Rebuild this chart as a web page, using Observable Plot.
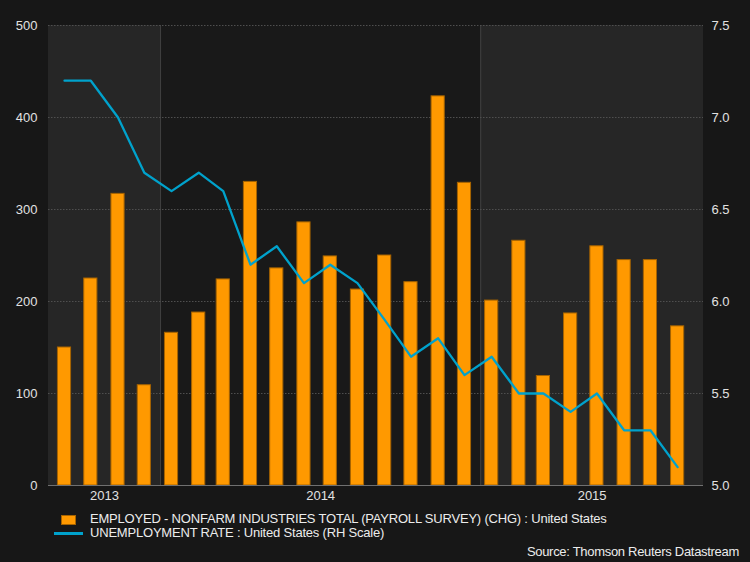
<!DOCTYPE html>
<html>
<head>
<meta charset="utf-8">
<script src="https://cdn.jsdelivr.net/npm/d3@7"></script>
<script src="https://cdn.jsdelivr.net/npm/@observablehq/plot@0.6"></script>
<style>
  html, body { margin: 0; padding: 0; }
  body {
    background: #171717; width: 750px; height: 562px; overflow: hidden; position: relative;
    font-family: "Liberation Sans", Arial, sans-serif; color: #ececec;
  }
  #chart { position: absolute; left: 0; top: 0; }
  .leg { position: absolute; font-size: 13px; line-height: 14px; letter-spacing: -0.2px; white-space: nowrap; }
  .sw-bar { position: absolute; left: 61px; top: 515px; width: 13px; height: 8px; background: #ff9900; border: 1px solid #a66300; }
  .sw-line { position: absolute; left: 54px; top: 532px; width: 29px; height: 3px; background: #00a2cc; }
</style>
</head>
<body>
<div id="chart"></div>
<div class="sw-bar"></div>
<div class="leg" id="leg1" style="left:90px; top:512px;"></div>
<div class="sw-line"></div>
<div class="leg" id="leg2" style="left:90px; top:526px;"></div>
<div class="leg" id="source" style="right:11px; top:545px; letter-spacing:-0.3px;"></div>
<script>
// ---- data ----
const months = ["2013-09","2013-10","2013-11","2013-12",
  "2014-01","2014-02","2014-03","2014-04","2014-05","2014-06","2014-07","2014-08","2014-09","2014-10","2014-11","2014-12",
  "2015-01","2015-02","2015-03","2015-04","2015-05","2015-06","2015-07","2015-08"];
const payrolls = [150,225,317,109, 166,188,224,330,236,286,249,213,250,221,423,329, 201,266,119,187,260,245,245,173];
const unemployment = [7.2,7.2,7.0,6.7, 6.6,6.7,6.6,6.2,6.3,6.1,6.2,6.1,5.9,5.7,5.8,5.6, 5.7,5.5,5.5,5.4,5.5,5.3,5.3,5.1];
const yearLabels = ["2013","2014","2015"];
const shadedYears = ["2013","2015"];
const leftTicks = [0,100,200,300,400,500];
const rateRange = [5.0, 7.5];
const xRange = ["2013-08-26T06:00Z","2015-09-12T00:00Z"];
const barSeriesName = "EMPLOYED - NONFARM INDUSTRIES TOTAL (PAYROLL SURVEY) (CHG) : United States";
const lineSeriesName = "UNEMPLOYMENT RATE : United States (RH Scale)";
const sourceText = "Source: Thomson Reuters Datastream";

// ---- derived ----
const DAY = 864e5;
const x0 = new Date(xRange[0]), x1 = new Date(xRange[1]);
const rows = months.map((m, i) => {
  const start = new Date(m + "-01T00:00Z");
  const center = new Date(+start + 12.5 * DAY);
  return { center, payroll: payrolls[i], rate: unemployment[i] };
});
const factor = leftTicks[leftTicks.length - 1] / (rateRange[1] - rateRange[0]);
const yTop = leftTicks[leftTicks.length - 1];
const yearSpan = y => {
  const a = new Date(y + "-01-01T00:00Z"), b = new Date((+y + 1) + "-01-01T00:00Z");
  return [new Date(Math.max(+a, +x0)), new Date(Math.min(+b, +x1))];
};
const yearMid = yearLabels.map(y => { const [a, b] = yearSpan(y); return new Date((+a + +b) / 2); });
const boundaries = yearLabels.slice(1).map(y => new Date(y + "-01-01T00:00Z"));

const txt = "#e2e2e2";
const chart = Plot.plot({
  width: 750, height: 505,
  marginLeft: 48, marginRight: 47, marginTop: 25, marginBottom: 20,
  style: { background: "transparent", fontFamily: "'Liberation Sans', Arial, sans-serif", fontSize: "13px", color: txt },
  x: { type: "utc", domain: [x0, x1], label: null },
  y: { domain: [0, yTop], label: null },
  marks: [
    Plot.frame({ fill: "#191919", stroke: "none" }),
    Plot.rect(shadedYears, { x1: d => yearSpan(d)[0], x2: d => yearSpan(d)[1], y1: 0, y2: yTop, fill: "#262626" }),
    Plot.ruleX(boundaries, { stroke: "#404040", strokeWidth: 1 }),
    Plot.ruleY(leftTicks.filter(d => d > 0), { stroke: "#4f4f4f", strokeDasharray: "1.5,1.5" }),
    Plot.rectY(rows, {
      x1: d => new Date(+d.center - 7.5 * DAY), x2: d => new Date(+d.center + 7.5 * DAY),
      y: "payroll", fill: "#ff9900", stroke: "#a66300", strokeWidth: 1
    }),
    Plot.ruleY([0], { stroke: "#707070" }),
    Plot.line(rows, { x: "center", y: d => (d.rate - rateRange[0]) * factor, stroke: "#00a2cc", strokeWidth: 2.3 }),
    Plot.axisY({ anchor: "left", ticks: leftTicks, tickSize: 0, tickPadding: 11, fontSize: 13, color: txt, label: null, tickFormat: d => String(d) }),
    Plot.axisY({ anchor: "right", ticks: leftTicks, tickSize: 0, tickPadding: 8, fontSize: 13, color: txt, label: null,
      tickFormat: d => (rateRange[0] + d / factor).toFixed(1) }),
    Plot.axisX({ ticks: yearMid, tickSize: 0, tickPadding: 5, fontSize: 13, color: txt, label: null,
      tickFormat: d => String(d.getUTCFullYear()) })
  ]
});
document.getElementById("chart").appendChild(chart);
document.getElementById("leg1").textContent = barSeriesName;
document.getElementById("leg2").textContent = lineSeriesName;
document.getElementById("source").textContent = sourceText;
</script>
</body>
</html>
